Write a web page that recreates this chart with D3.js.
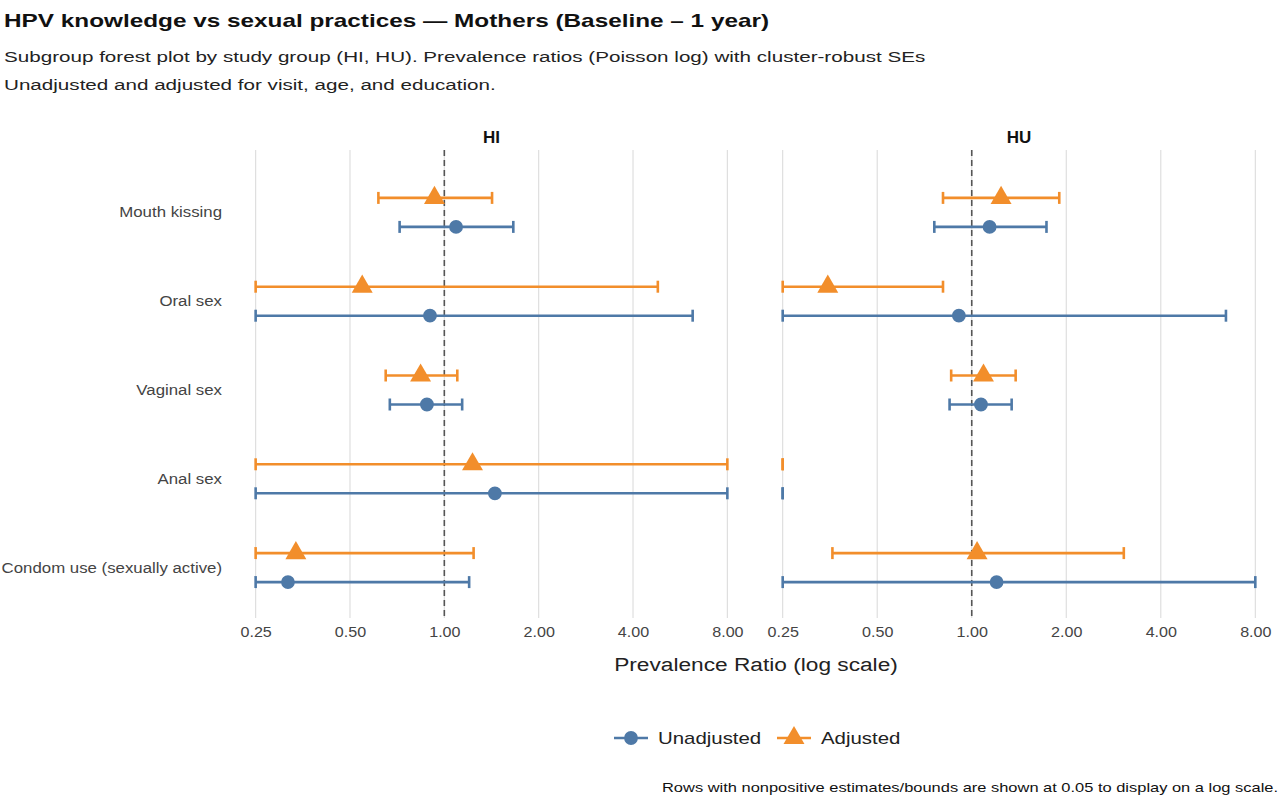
<!DOCTYPE html>
<html><head><meta charset="utf-8">
<script src="https://cdn.jsdelivr.net/npm/d3@7"></script>
<style>body{margin:0;background:#fff;font-family:"Liberation Sans",Arial,sans-serif}</style>
</head><body><svg id="c" width="1280" height="805"></svg>
<script>
(function () {
  'use strict';

  var groups = ['HI', 'HU'];
  var outcomes = ['Mouth kissing', 'Oral sex', 'Vaginal sex', 'Anal sex', 'Condom use (sexually active)'];
  var ticks = [0.25, 0.5, 1, 2, 4, 8];
  // [est, low, high] per outcome; null est = not shown
  var hiUnadj = [[1.09, 0.72, 1.66], [0.90, 0.25, 6.2], [0.88, 0.67, 1.14], [1.45, 0.25, 8], [0.317, 0.25, 1.20]];
  var hiAdj = [[0.93, 0.616, 1.42], [0.547, 0.25, 4.8], [0.84, 0.65, 1.10], [1.23, 0.25, 8], [0.336, 0.25, 1.24]];
  var huUnadj = [[1.14, 0.76, 1.73], [0.91, 0.25, 6.45], [1.07, 0.85, 1.34], [null, 0.25, 0.25], [1.20, 0.25, 8]];
  var huAdj = [[1.24, 0.81, 1.90], [0.348, 0.25, 0.81], [1.09, 0.86, 1.38], [null, 0.25, 0.25], [1.04, 0.36, 3.05]];

  var BLUE = '#4e79a7', ORANGE = '#f28e2b';
  var svg = d3.select('#c');

  // reference text is drawn wider than Liberation Sans; stretch horizontally
  function stretch(sel, f) {
    sel.each(function () {
      var len = this.getComputedTextLength();
      d3.select(this).attr('textLength', len * f).attr('lengthAdjust', 'spacingAndGlyphs');
    });
    return sel;
  }

  stretch(svg.append('text').attr('x', 4).attr('y', 27).attr('font-size', 19).attr('font-weight', 'bold')
    .attr('fill', '#111').text('HPV knowledge vs sexual practices \u2014 Mothers (Baseline \u2013 1 year)'), 1.28);
  stretch(svg.append('text').attr('x', 4).attr('y', 62).attr('font-size', 15.5).attr('fill', '#222')
    .text('Subgroup forest plot by study group (HI, HU). Prevalence ratios (Poisson log) with cluster-robust SEs'), 1.33);
  stretch(svg.append('text').attr('x', 4).attr('y', 90).attr('font-size', 15.5).attr('fill', '#222')
    .text('Unadjusted and adjusted for visit, age, and education.'), 1.33);

  var y = d3.scaleBand().domain(outcomes).range([168, 612]);
  var panels = [
    {name: 'HI', x0: 233, x1: 750, u: hiUnadj, a: hiAdj},
    {name: 'HU', x0: 760, x1: 1278, u: huUnadj, a: huAdj}
  ];
  var clip = function (v) { return Math.max(0.25, Math.min(8, v)); };

  panels.forEach(function (p) {
    var x = d3.scaleLog().base(2).domain([0.25 / Math.pow(2, 0.24), 8 * Math.pow(2, 0.24)]).range([p.x0, p.x1]);
    var g = svg.append('g');
    g.selectAll('.grid').data(ticks).enter().append('line')
      .attr('x1', function (d) { return x(d); }).attr('x2', function (d) { return x(d); })
      .attr('y1', 150).attr('y2', 618).attr('stroke', '#dcdcdc').attr('stroke-width', 1.1);
    g.append('line').attr('x1', x(1)).attr('x2', x(1)).attr('y1', 150).attr('y2', 618)
      .attr('stroke', '#555').attr('stroke-width', 1.6).attr('stroke-dasharray', '6,4');
    g.append('text').attr('x', (p.x0 + p.x1) / 2).attr('y', 143).attr('text-anchor', 'middle')
      .attr('font-size', 17).attr('font-weight', 'bold').attr('fill', '#111').text(p.name);
    var ax = d3.axisBottom(x).tickValues(ticks).tickFormat(d3.format('.2f')).tickSize(0);
    var axg = g.append('g').attr('transform', 'translate(0,624)').call(ax);
    axg.select('.domain').remove();
    stretch(axg.selectAll('text').attr('font-size', 14).attr('fill', '#444').attr('font-family', 'Liberation Sans, Arial'), 1.15);

    [{d: p.a, off: -14.5, c: ORANGE, shape: d3.symbolTriangle}, {d: p.u, off: 14.5, c: BLUE, shape: d3.symbolCircle}]
      .forEach(function (s) {
        s.d.forEach(function (r, i) {
          var cy = y(outcomes[i]) + y.bandwidth() / 2 + s.off;
          var lo = x(clip(r[1])), hi = x(clip(r[2]));
          g.append('line').attr('x1', lo).attr('x2', hi).attr('y1', cy).attr('y2', cy)
            .attr('stroke', s.c).attr('stroke-width', 2.6);
          [lo, hi].forEach(function (xx) {
            g.append('line').attr('x1', xx).attr('x2', xx).attr('y1', cy - 6).attr('y2', cy + 6)
              .attr('stroke', s.c).attr('stroke-width', 2.6);
          });
          if (r[0] !== null) {
            g.append('path').attr('d', d3.symbol().type(s.shape).size(s.shape === d3.symbolCircle ? 150 : 190)())
              .attr('transform', 'translate(' + x(clip(r[0])) + ',' + cy + ')').attr('fill', s.c);
          }
        });
      });
  });

  stretch(svg.selectAll('.ylab').data(outcomes).enter().append('text')
    .attr('x', 222).attr('y', function (d) { return y(d) + y.bandwidth() / 2 + 5; })
    .attr('text-anchor', 'end').attr('font-size', 14).attr('fill', '#444').text(function (d) { return d; }), 1.2);

  stretch(svg.append('text').attr('x', 756).attr('y', 671).attr('text-anchor', 'middle').attr('font-size', 18)
    .attr('fill', '#222').text('Prevalence Ratio (log scale)'), 1.26);

  var leg = [{t: 'Unadjusted', c: BLUE, s: d3.symbolCircle, x: 614}, {t: 'Adjusted', c: ORANGE, s: d3.symbolTriangle, x: 777}];
  leg.forEach(function (l) {
    svg.append('line').attr('x1', l.x).attr('x2', l.x + 34).attr('y1', 738).attr('y2', 738)
      .attr('stroke', l.c).attr('stroke-width', 2.6);
    svg.append('path').attr('d', d3.symbol().type(l.s).size(l.s === d3.symbolCircle ? 150 : 190)())
      .attr('transform', 'translate(' + (l.x + 17) + ',738)').attr('fill', l.c);
    stretch(svg.append('text').attr('x', l.x + 44).attr('y', 744).attr('font-size', 17).attr('fill', '#222').text(l.t), 1.2);
  });

  var foot = svg.append('text').attr('x', 662).attr('y', 792).attr('font-size', 13.5)
    .attr('fill', '#111').text('Rows with nonpositive estimates/bounds are shown at 0.05 to display on a log scale.');
  foot.attr('textLength', 616).attr('lengthAdjust', 'spacingAndGlyphs');
})();
</script></body></html>
